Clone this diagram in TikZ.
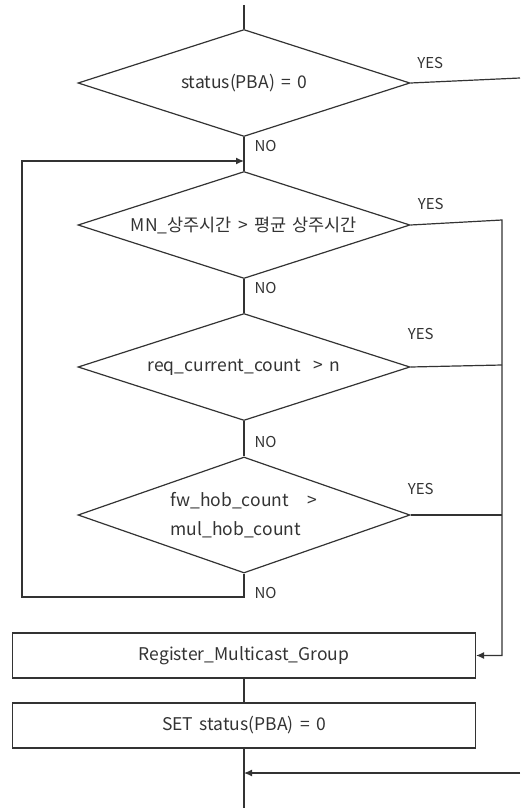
\documentclass[tikz,border=0pt]{standalone}
\usepackage{fontspec}
\setmainfont[WordSpace=1.6]{Noto Sans CJK KR}
\usetikzlibrary{shapes.geometric, positioning, arrows.meta}

\begin{document}
\begin{tikzpicture}[x=1pt, y=-1pt, node distance={142pt}, line width=1.2pt, color={black!80},
  decision/.style = {draw, diamond, aspect=3.1, inner sep=0pt, minimum width=332pt, minimum height=107pt, font=\fontsize{17.5}{29}\selectfont},
  process/.style = {draw, rectangle, minimum width=463pt, minimum height=45pt, font=\fontsize{17.5}{20}\selectfont},
  tag/.style = {font=\fontsize{15}{17}\selectfont, inner sep=0pt},
  arr/.style = {-{Latex[length=8pt, width=7pt]}}]
	\useasboundingbox (0,0) rectangle (520,808);
	\node[decision] (d1) at (244,83) {status(PBA) = 0};
	\node[decision, below of = d1] (d2) {MN\_상주시간 > 평균 상주시간};
	\node[decision, below of = d2] (d3) {req\_current\_count\ \ > n};
	\node[decision, node distance={148pt}, minimum height=116pt, align=left, below of = d3] (d4) {fw\_hob\_count\ \ \ >\\mul\_hob\_count};
	\node[process, node distance={140.5pt}, below of = d4] (reg) {Register\_Multicast\_Group};
	\node[process, node distance={70pt}, below of = reg] (set) {SET status(PBA) = 0};
	\coordinate (top) at (244,5);
	\coordinate (out) at (520,78);
	\coordinate (join) at (244,161);
	\coordinate (r2) at (502,220);
	\coordinate (r3) at (502,365);
	\coordinate (r4) at (502,515);
	\coordinate (back) at (22,597);
	\coordinate (merge) at (244,773);
	\coordinate (in) at (520,773);
	\coordinate (bot) at (244,808);
	\draw (top) -- (d1);
	\draw (d1.east) -- node[tag, pos=0.18, above=13pt] {YES} (out);
	\draw (d1.south) -- node[tag, pos=0.26, right=10pt] {NO} (d2.north);
	\draw[arr] (d2.east) -- node[tag, pos=0.22, above=14pt] {YES} (r2) |- (reg.east);
	\draw (d2.south) -- node[tag, pos=0.25, right=10pt] {NO} (d3.north);
	\draw (d3.east) -- node[tag, pos=0.11, above=26pt] {YES} (r3);
	\draw (d3.south) -- node[tag, pos=0.58, right=10pt] {NO} (d4.north);
	\draw (d4.east) -- node[tag, pos=0.11, above=20pt] {YES} (r4);
	\draw[arr] (d4.south) |- node[tag, pos=0.42, right=10pt] {NO} (back) |- (join);
	\draw (reg) -- (set);
	\draw (set) -- (bot);
	\draw[arr] (in) -- (merge);
\end{tikzpicture}
\end{document}
